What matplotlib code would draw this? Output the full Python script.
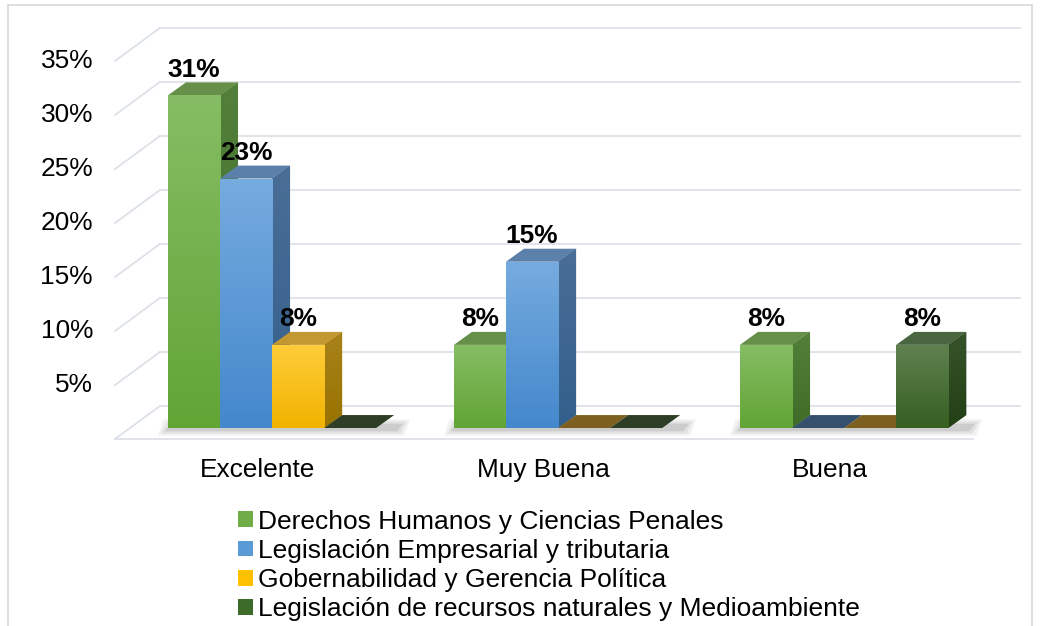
import numpy as np
import matplotlib
matplotlib.use("Agg")
import matplotlib.pyplot as plt
from matplotlib.patches import Polygon, Rectangle, Patch
from matplotlib.colors import LinearSegmentedColormap

plt.rcParams['font.family'] = ['Liberation Sans', 'DejaVu Sans']

# data (shares of 13 respondents, shown rounded)
categories = ["Excelente", "Muy Buena", "Buena"]
series_names = [
    "Derechos Humanos y Ciencias Penales",
    "Legislación Empresarial y tributaria",
    "Gobernabilidad y Gerencia Política",
    "Legislación de recursos naturales y Medioambiente",
]
derechos = [30.8, 7.7, 7.7]
empresarial = [23.1, 15.4, 0]
gobernabilidad = [7.7, 0, 0]
medioambiente = [0, 0, 7.7]
yticks = [5, 10, 15, 20, 25, 30, 35]

series = [derechos, empresarial, gobernabilidad, medioambiente]

# colours: front top, front bottom, side top, side bottom, top face, flat (zero) face
colors = [
    ("#86bd64", "#62a535", "#52803a", "#3f6c27", "#668f4a", "#4d7a33"),
    ("#75abdf", "#4488cc", "#4a6e96", "#335f8c", "#5b80aa", "#35506d"),
    ("#ffcd3a", "#f1b300", "#a8821a", "#987300", "#c39830", "#7d5f1f"),
    ("#5f814f", "#365f22", "#37532a", "#233f16", "#4a6640", "#2e3d25"),
]
legend_colors = ["#70ad47", "#5b9bd5", "#ffc000", "#3d6b2a"]

fig = plt.figure(figsize=(10.4, 6.26), dpi=100)
ax = fig.add_axes([0, 0, 1, 1])
ax.set_xlim(-0.951, 2.685)
ax.set_ylim(-18.33, 39.63)
ax.axis("off")

bw = 0.182      # bar width
dx = 0.063      # depth offset x
dy = 1.2        # depth offset y
grid_c = "#dde1e8"

# back wall, floor and side gridlines
bl, br = -0.392, 2.615
fl, fr = -0.549, 2.451
back_up, front_down = 2.04, -1.02
for v in [0] + yticks:
    ax.plot([bl, br], [v + back_up, v + back_up], color=grid_c, lw=1.3, zorder=1)
    ax.plot([fl, bl], [v + front_down, v + back_up], color=grid_c, lw=1.3, zorder=1)
ax.plot([fl, fr], [front_down, front_down], color=grid_c, lw=1.3, zorder=1)
for t in yticks:
    ax.text(-0.626, t + front_down, f"{t}%", ha="right", va="center", fontsize=18.9, zorder=5)

for i, cat in enumerate(categories):
    ax.text(i - 0.05, -3.9, cat, ha="center", va="center", fontsize=18.9)


def gradient(poly, top_c, bot_c, y0, y1, x0, x1, z):
    cmap = LinearSegmentedColormap.from_list("g", [bot_c, top_c])
    img = np.linspace(0, 1, 64).reshape(-1, 1)
    im = ax.imshow(img, cmap=cmap, extent=[x0, x1, y0, y1], origin="lower",
                   aspect="auto", zorder=z, interpolation="bilinear")
    im.set_clip_path(poly)


z = 3
for i in range(len(categories)):
    # soft shadow on the floor
    gx0 = i - 2 * bw
    gx1 = i + 2 * bw + dx
    for k, a in enumerate([0.08, 0.10, 0.14]):
        pad = 0.035 - k * 0.012
        ax.add_patch(Polygon([(gx0 - pad, -0.7 + k * 0.2), (gx1 + pad, -0.7 + k * 0.2),
                              (gx1 + pad + 0.02, 0.8 - k * 0.2), (gx0 - pad + 0.02, 0.8 - k * 0.2)],
                             closed=True, facecolor="#555555", edgecolor="none",
                             alpha=a, zorder=2))
    for j, vals in enumerate(series):
        v = vals[i]
        x0 = i + (j - 2) * bw
        x1 = x0 + bw
        ftop, fbot, stop, sbot, topc, flat = colors[j]
        if v == 0:
            ax.add_patch(Polygon([(x0, 0), (x1, 0), (x1 + dx, dy), (x0 + dx, dy)],
                                 closed=True, facecolor=flat, edgecolor="none", zorder=z))
            z += 1
            continue
        sp = Polygon([(x1, 0), (x1 + dx, dy), (x1 + dx, v + dy), (x1, v)],
                     closed=True, facecolor=stop, edgecolor="none", zorder=z)
        ax.add_patch(sp)
        gradient(sp, stop, sbot, 0, v + dy, x1, x1 + dx, z)
        z += 1
        tp = Polygon([(x0, v), (x1, v), (x1 + dx, v + dy), (x0 + dx, v + dy)],
                     closed=True, facecolor=topc, edgecolor="none", zorder=z)
        ax.add_patch(tp)
        z += 1
        bar = ax.bar(x0, v, width=bw, align="edge", color=fbot, edgecolor="none", zorder=z)[0]
        gradient(bar, ftop, fbot, 0, v, x0, x1, z + 0.5)
        z += 1
        ax.text(x0 + bw / 2, v + 1.25, f"{v:.0f}%", ha="center", va="bottom",
                fontsize=18.9, fontweight="bold", zorder=200)

# keep the limits fixed after imshow
ax.set_xlim(-0.951, 2.685)
ax.set_ylim(-18.33, 39.63)

handles = [Patch(facecolor=c, edgecolor="none") for c in legend_colors]
fig.legend(handles, series_names, loc="upper left", bbox_to_anchor=(0.229, 0.186),
           frameon=False, fontsize=19.0, handlelength=0.55, handleheight=0.55,
           handletextpad=0.22, labelspacing=0.2, borderaxespad=0, borderpad=0)

# chart border
fig.add_artist(Rectangle((8 / 1040, -0.02), 1024 / 1040, 1.02 - 5 / 626,
                         transform=fig.transFigure, fill=False,
                         edgecolor="#d9d9d9", lw=1.2))

fig.savefig("out.png", dpi=100)
